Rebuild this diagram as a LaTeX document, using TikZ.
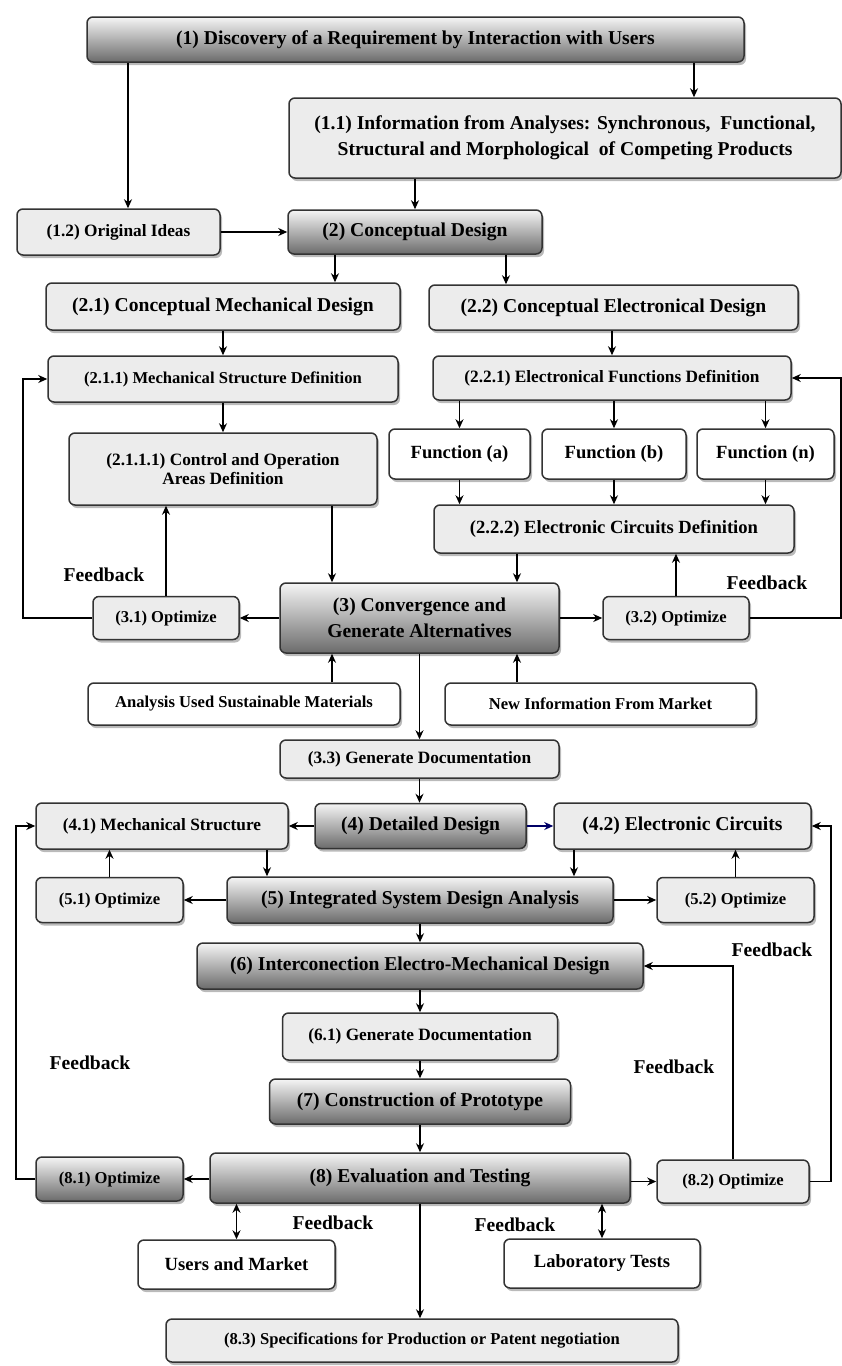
\documentclass[tikz,border=0pt]{standalone}
\usepackage{fontspec}
\setmainfont{Liberation Serif}
\usetikzlibrary{shadows,arrows.meta}

\tikzset{
    box/.style={draw=black!80, line width=1.5pt, rounded corners=6pt, align=center, inner sep=0pt,
        drop shadow={shadow xshift=2pt, shadow yshift=-3pt, opacity=0.45, fill=black!60}},
    lightbox/.style={box, fill=gray!15},
    darkbox/.style={box, top color=gray!8, bottom color=black!58},
    whitebox/.style={box, fill=white},
    bigtext/.style={font=\fontsize{19.6}{26}\selectfont\bfseries},
    midtext/.style={font=\fontsize{18.6}{24}\selectfont\bfseries},
    medtext/.style={font=\fontsize{17.3}{19.5}\selectfont\bfseries},
    smalltext/.style={font=\fontsize{16.6}{19}\selectfont\bfseries},
    arr/.style={line width=1.8pt, -{Stealth[length=9pt,width=8pt]}},
    dbl/.style={line width=1.8pt, {Stealth[length=9pt,width=8pt]}-{Stealth[length=9pt,width=8pt]}}
}

\begin{document}
\begin{tikzpicture}[x=1pt, y=-1pt]
    \useasboundingbox (0,0) rectangle (842,1366);

    \coordinate (c16) at (16,0);
    \coordinate (c23) at (23,0);
    \coordinate (c128) at (128,0);
    \coordinate (c267) at (267,0);
    \coordinate (c332) at (332,0);
    \coordinate (c335) at (335,0);
    \coordinate (c506) at (506,0);
    \coordinate (c517) at (517,0);
    \coordinate (c574) at (574,0);
    \coordinate (c694) at (694,0);
    \coordinate (c831) at (831,0);
    \coordinate (c841) at (841,0);

    \node[darkbox, bigtext, minimum width=657pt, minimum height=45pt] (n1) at (415.5,39.5) {(1) Discovery of a Requirement by Interaction with Users};
    \node[lightbox, bigtext, minimum width=552pt, minimum height=80pt] (n11) at (565,138) {(1.1) Information from Analyses: Synchronous, \ Functional,\\ Structural and Morphological \ of Competing Products};
    \node[lightbox, medtext, minimum width=203pt, minimum height=46pt] (n12) at (118.5,232) {(1.2) Original Ideas};
    \node[darkbox, bigtext, minimum width=254pt, minimum height=44pt] (n2) at (415,232) {(2) Conceptual Design};
    \node[lightbox, bigtext, minimum width=354pt, minimum height=47pt] (n21) at (223,306.5) {(2.1) Conceptual Mechanical Design};
    \node[lightbox, bigtext, minimum width=369pt, minimum height=45pt] (n22) at (613.5,307.5) {(2.2) Conceptual Electronical Design};
    \node[lightbox, smalltext, minimum width=350pt, minimum height=46pt] (n211) at (223,379) {(2.1.1) Mechanical Structure Definition};
    \node[lightbox, medtext, minimum width=358pt, minimum height=44pt] (n221) at (612,378) {(2.2.1) Electronical Functions Definition};
    \node[lightbox, medtext, minimum width=308pt, minimum height=72pt] (n2111) at (223,469) {(2.1.1.1) Control and Operation\\ Areas Definition};
    \node[whitebox, midtext, minimum width=141pt, minimum height=50pt] (fa) at (459.5,454) {Function (a)};
    \node[whitebox, midtext, minimum width=144pt, minimum height=50pt] (fb) at (614,454) {Function (b)};
    \node[whitebox, midtext, minimum width=137pt, minimum height=50pt] (fn) at (765.5,454) {Function (n)};
    \node[lightbox, midtext, minimum width=360pt, minimum height=48pt] (n222) at (614,529) {(2.2.2) Electronic Circuits Definition};
    \node[darkbox, bigtext, minimum width=279pt, minimum height=70pt] (n3) at (419.5,618) {(3) Convergence and\\ Generate Alternatives};
    \node[lightbox, smalltext, minimum width=146pt, minimum height=43pt] (n31) at (166,618) {(3.1) Optimize};
    \node[lightbox, smalltext, minimum width=146pt, minimum height=43pt] (n32) at (676,618) {(3.2) Optimize};
    \node[whitebox, smalltext, minimum width=312pt, minimum height=42pt] (mat) at (244,704) {Analysis Used Sustainable Materials};
    \node[whitebox, smalltext, minimum width=311pt, minimum height=42pt] (mkt) at (600.5,704) {New Information From Market};
    \node[lightbox, medtext, minimum width=279pt, minimum height=38pt] (n33) at (419.5,759) {(3.3) Generate Documentation};
    \node[darkbox, bigtext, minimum width=211pt, minimum height=45pt] (n4) at (420.5,826) {(4) Detailed Design};
    \node[lightbox, medtext, minimum width=252pt, minimum height=46pt] (n41) at (162,826) {(4.1) Mechanical Structure};
    \node[lightbox, bigtext, minimum width=257pt, minimum height=46pt] (n42) at (682.5,826) {(4.2) Electronic Circuits};
    \node[darkbox, bigtext, minimum width=386pt, minimum height=46pt] (n5) at (420,900) {(5) Integrated System Design Analysis};
    \node[lightbox, smalltext, minimum width=147pt, minimum height=45pt] (n51) at (109.5,900) {(5.1) Optimize};
    \node[lightbox, smalltext, minimum width=157pt, minimum height=45pt] (n52) at (735.5,900) {(5.2) Optimize};
    \node[darkbox, bigtext, minimum width=446pt, minimum height=46pt] (n6) at (420,966) {(6) Interconection Electro-Mechanical Design};
    \node[lightbox, medtext, minimum width=275pt, minimum height=47pt] (n61) at (420,1036.5) {(6.1) Generate Documentation};
    \node[darkbox, bigtext, minimum width=301pt, minimum height=45pt] (n7) at (420,1101.5) {(7) Construction of Prototype};
    \node[darkbox, bigtext, minimum width=420pt, minimum height=50pt] (n8) at (420,1178) {(8) Evaluation and Testing};
    \node[darkbox, smalltext, minimum width=147pt, minimum height=44pt] (n81) at (109.5,1179) {(8.1) Optimize};
    \node[lightbox, smalltext, minimum width=152pt, minimum height=43pt] (n82) at (733,1181.5) {(8.2) Optimize};
    \node[whitebox, midtext, minimum width=197pt, minimum height=49pt] (usr) at (236.5,1264.5) {Users and Market};
    \node[whitebox, midtext, minimum width=196pt, minimum height=49pt] (lab) at (602,1263.5) {Laboratory Tests};
    \node[lightbox, smalltext, minimum width=512pt, minimum height=43pt] (n83) at (422,1340.5) {(8.3) Specifications for Production or Patent negotiation};

    \node[bigtext] (fb1) at (104,575) {Feedback};
    \node[bigtext] (fb2) at (767,583) {Feedback};
    \node[bigtext] (fb3) at (772,950) {Feedback};
    \node[bigtext] (fb4) at (90,1063) {Feedback};
    \node[bigtext] (fb5) at (674,1067) {Feedback};
    \node[bigtext] (fb6) at (333,1223) {Feedback};
    \node[bigtext] (fb7) at (515,1225) {Feedback};

    \draw[arr] (n1.south -| c128) -- (n12.north -| c128);
    \draw[arr] (n1.south -| c694) -- (n11.north -| c694);
    \draw[arr] (n11.south -| n2) -- (n2.north);
    \draw[arr] (n12.east) -- (n2.west);
    \draw[arr] (n2.south -| c335) -- (n21.north -| c335);
    \draw[arr] (n2.south -| c506) -- (n22.north -| c506);
    \draw[arr] (n21.south -| n211) -- (n211.north);
    \draw[arr] (n22.south -| n221) -- (n221.north);
    \draw[arr] (n211.south) -- (n2111.north);
    \foreach \f in {fa,fb,fn} {
        \draw[arr] (n221.south -| \f) -- (\f.north);
        \draw[arr] (\f.south) -- (n222.north -| \f);
    }
    \draw[arr] (n222.south -| c517) -- (n3.north -| c517);
    \draw[arr] (n2111.south -| c332) -- (n3.north -| c332);
    \draw[arr] (n3.west) -- (n31.east);
    \draw[arr] (n31.north) -- (n2111.south -| n31);
    \draw[arr] (n31.west) -- (n31.west -| c23) |- (n211.west);
    \draw[arr] (n3.east) -- (n32.west);
    \draw[arr] (n32.north) -- (n222.south -| n32);
    \draw[arr] (n32.east) -- (n32.east -| c841) |- (n221.east);
    \draw[arr] (mat.north -| c332) -- (n3.south -| c332);
    \draw[arr] (mkt.north -| c517) -- (n3.south -| c517);
    \draw[arr] (n3.south -| n33) -- (n33.north);
    \draw[arr] (n33.south) -- (n4.north -| n33);
    \draw[arr] (n4.west) -- (n41.east);
    \draw[arr, blue!40!black] (n4.east) -- (n42.west);
    \draw[arr] (n41.south -| c267) -- (n5.north -| c267);
    \draw[arr] (n42.south -| c574) -- (n5.north -| c574);
    \draw[arr] (n51.north) -- (n41.south -| n51);
    \draw[arr] (n52.north) -- (n42.south -| n52);
    \draw[arr] (n5.west) -- (n51.east);
    \draw[arr] (n5.east) -- (n52.west);
    \draw[arr] (n5.south) -- (n6.north);
    \draw[arr] (n6.south) -- (n61.north);
    \draw[arr] (n61.south) -- (n7.north);
    \draw[arr] (n7.south) -- (n8.north);
    \draw[arr] (n8.south) -- (n83.north -| n8);
    \draw[arr] (n8.west |- n81) -- (n81.east);
    \draw[arr] (n8.east |- n82) -- (n82.west);
    \draw[arr] (n81.west) -- (n81.west -| c16) |- (n41.west);
    \draw[arr] (n82.north) |- (n6.east);
    \draw[arr] (n82.east) -- (n82.east -| c831) |- (n42.east);
    \draw[dbl] (n8.south -| usr) -- (usr.north);
    \draw[dbl] (n8.south -| lab) -- (lab.north);
\end{tikzpicture}
\end{document}
